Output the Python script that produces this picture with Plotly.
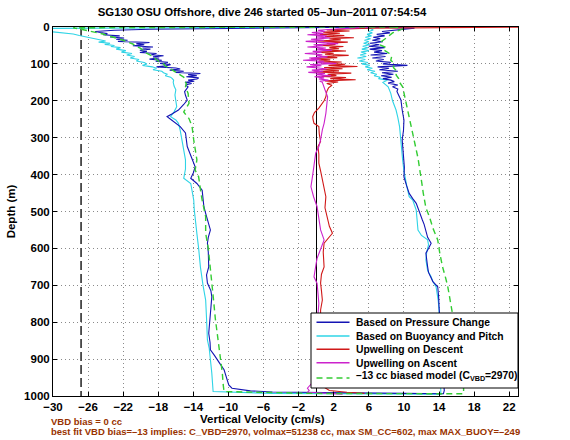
import plotly.graph_objects as go

# ---------------- data (depth in m, velocity in cm/s) ----------------
navy_desc_d = [0, 2, 3, 6, 9, 12, 15, 18, 21, 24, 27, 30, 33, 36, 39, 42, 45, 48, 51, 54, 57, 60, 63, 66, 69, 72, 75, 78,
               81, 84, 87, 90, 93, 96, 99, 102, 105, 108, 111, 114, 117, 120, 123, 126, 129, 132, 135, 138, 141, 144,
               147, 150, 153, 157, 162, 168, 175, 185, 198, 210, 225, 235, 243, 250, 260, 270, 287, 305, 324, 342,
               360, 379, 395, 410, 424, 442, 465, 487, 505, 523, 550, 570, 586, 610, 650, 672, 694, 715, 731, 760,
               785, 810, 830, 855, 875, 890, 902, 915, 929, 950, 970, 979, 986, 989, 991, 992, 993]
navy_desc_v = [7, -5, -13, -19, -23, -25.2, -24.6, -23.8, -24.3, -22.4, -23.5, -21.9, -22.8, -21.5, -22.6, -19.0, -20.5,
               -19.6, -20.9, -18.6, -19.8, -18.9, -20.1, -19.3, -20.1, -18.2, -18.8, -17.4, -18.6, -17.9, -19.0, -17.6,
               -18.3, -16.9, -17.8, -16.6, -17.1, -18.2, -16.0, -15.5, -16.7, -15.1, -16.0, -13.2, -14.6, -13.6, -14.8,
               -13.4, -13.6, -14.6, -13.9, -14.95, -14.2, -14.9, -14.6, -14.8, -15.0, -14.9, -14.7, -15.1, -15.7, -16.4,
               -17.0, -16.6, -16.0, -15.5, -14.9, -14.8, -14.7, -14.4, -14.15, -13.8, -14.0, -14.3, -13.6, -13.0, -12.9,
               -12.8, -12.6, -12.4, -12.06, -12.3, -12.4, -12.3, -12.25, -12.5, -12.4, -12.0, -11.9, -12.0, -12.06,
               -12.2, -12.25, -12.1, -12.06, -11.6, -11.3, -10.9, -10.5, -10.2, -9.97, -9.6, -7.5, -5.0, 0.0, 5.0, 10.0]
navy_asc_d = [994, 985, 960, 930, 900, 870, 840, 810, 785, 758, 730, 704, 690, 680, 665, 650, 630, 613, 600, 586, 570,
              550, 535, 523, 500, 478, 465, 451, 430, 406, 380, 360, 335, 306, 280, 252, 225, 198, 185, 175, 168, 162,
              157, 152, 148, 144, 140, 136, 132, 128, 124, 120, 116, 112, 108, 104, 100, 96, 92, 88, 84, 80, 76, 72,
              68, 64, 60, 56, 52, 48, 44, 40, 36, 32, 28, 24, 20, 16, 12, 8, 5, 3, 1, 0]
navy_asc_v = [14.5, 14.6, 14.5, 14.4, 14.3, 14.3, 14.2, 14.1, 14.1, 14.0, 13.95, 13.85, 13.3, 13.1, 12.8, 12.7, 12.6,
              12.5, 12.8, 13.1, 12.7, 12.5, 12.3, 12.1, 11.7, 11.4, 11.0, 10.6, 10.3, 10.0, 10.05, 10.0, 9.9, 9.8,
              9.95, 10.0, 9.8, 9.66, 9.4, 9.2, 9.3, 8.7, 9.3, 8.2, 8.9, 8.5, 7.6, 8.6, 7.4, 8.8, 7.5, 9.3, 7.2, 8.3,
              7.0, 10.4, 7.6, 8.5, 6.8, 7.7, 6.4, 7.9, 6.2, 8.1, 6.6, 7.5, 6.1, 7.8, 6.0, 7.2, 6.1, 7.6, 6.4, 7.3,
              6.5, 7.8, 6.9, 8.4, 7.5, 9.6, 10.8, 11.2, 8.0, 4.0]

cyan_desc_d = [0, 2, 4, 8, 12, 16, 19, 23, 27, 31, 35, 38, 41, 44, 47, 50, 53, 56, 60, 64, 68, 72, 76, 80, 84, 88, 92,
               96, 100, 104, 108, 112, 116, 120, 124, 128, 132, 136, 140, 144, 150, 160, 170, 184, 200, 216, 230, 243,
               252, 261, 280, 306, 330, 360, 385, 410, 424, 445, 469, 495, 523, 560, 600, 650, 700, 740, 790, 848, 870,
               893, 915, 938, 965, 988, 993, 994]
cyan_desc_v = [1, -18, -33, -32, -30.5, -29.2, -27.7, -27.0, -26.2, -25.4, -24.6, -24.0, -24.8, -23.5, -24.1, -23.0,
               -23.4, -22.3, -22.8, -21.7, -22.2, -21.0, -21.6, -20.7, -21.2, -20.2, -20.5, -19.6, -19.3, -19.8, -18.7,
               -18.2, -18.6, -17.6, -17.4, -17.0, -17.2, -16.6, -16.4, -16.25, -16.3, -16.2, -16.0, -16.1, -16.0,
               -15.9, -16.2, -16.6, -16.0, -15.7, -15.5, -15.3, -15.1, -14.9, -14.9, -15.1, -14.3, -14.1, -13.96,
               -13.9, -13.8, -13.6, -13.4, -13.2, -12.9, -12.6, -12.5, -12.4, -12.2, -12.06, -12.0, -11.9, -11.8,
               -11.75, -5.0, 3.0]
cyan_asc_d = [995, 985, 960, 930, 900, 870, 840, 800, 767, 740, 720, 704, 690, 677, 660, 645, 631, 610, 590, 577, 565,
              550, 530, 510, 496, 469, 460, 440, 415, 390, 360, 335, 315, 290, 270, 245, 225, 200, 180, 162, 150, 144,
              140, 136, 132, 128, 124, 120, 116, 112, 108, 104, 100, 96, 92, 88, 84, 80, 76, 72, 68, 64, 60, 56, 52,
              48, 44, 40, 36, 32, 28, 24, 20, 16, 12, 8, 4, 1, 0]
cyan_asc_v = [14.2, 14.2, 14.2, 14.15, 14.1, 14.1, 14.05, 14.0, 14.0, 13.9, 13.8, 13.66, 13.3, 13.1, 12.7, 12.6, 12.5,
              12.6, 12.8, 12.7, 12.0, 11.6, 11.5, 11.4, 11.4, 11.0, 10.6, 10.4, 10.2, 10.0, 9.85, 9.75, 9.66, 9.6,
              9.5, 9.3, 9.1, 8.7, 8.5, 8.2, 7.6, 8.1, 7.1, 7.3, 6.6, 6.9, 6.2, 6.7, 5.8, 6.4, 5.6, 6.1, 5.2, 5.9, 4.9,
              5.6, 4.7, 5.7, 5.0, 5.7, 5.1, 6.0, 5.2, 5.9, 5.3, 6.1, 5.4, 6.0, 5.5, 6.2, 5.6, 6.3, 5.8, 6.4, 6.0, 6.5,
              6.2, 4.0, 1.0]

green_desc_d = [0, 2, 5, 10, 14, 19, 24, 28, 32, 36, 40, 46, 52, 58, 64, 70, 76, 82, 88, 94, 100, 106, 112, 118, 124,
                130, 136, 145, 154, 162, 180, 207, 220, 230, 240, 248, 260, 270, 306, 330, 360, 388, 406, 440, 469,
                514, 559, 600, 650, 700, 740, 790, 830, 893, 938, 970, 988, 993]
green_desc_v = [9, -27.7, -27.0, -25.8, -25.3, -24.3, -23.6, -23.2, -22.4, -22.0, -21.6, -20.9, -20.6, -20.0, -19.7,
                -19.4, -18.9, -18.6, -18.2, -17.9, -17.4, -17.2, -16.7, -16.3, -16.0, -15.5, -15.1, -15.0, -14.8,
                -14.9, -14.6, -14.5, -14.8, -15.1, -14.8, -14.5, -14.3, -14.15, -13.96, -13.8, -13.6, -13.8, -13.4,
                -13.2, -13.0, -12.6, -12.6, -12.3, -12.06, -11.9, -11.7, -11.5, -11.3, -10.9, -10.7, -10.6, -10.5, 0.0]
green_asc_d = [994, 980, 950, 900, 850, 800, 758, 730, 704, 680, 650, 615, 577, 545, 514, 490, 469, 450, 433, 405, 379,
               355, 333, 310, 288, 265, 243, 220, 198, 180, 162, 150, 140, 130, 120, 110, 100, 90, 80, 71, 62, 55, 48,
               40, 32, 24, 16, 10, 5, 2, 0]
green_asc_v = [16.8, 16.8, 16.6, 16.3, 16.0, 15.7, 15.4, 15.2, 15.0, 14.75, 14.4, 14.1, 13.85, 13.3, 12.9, 12.5, 12.3,
               12.2, 12.1, 11.95, 11.8, 11.6, 11.4, 11.2, 11.0, 10.8, 10.6, 10.4, 10.2, 10.0, 9.85, 9.5, 9.4, 9.1, 9.2,
               8.8, 8.9, 8.5, 8.6, 8.3, 7.7, 7.9, 7.2, 7.4, 7.9, 8.3, 8.7, 9.3, 9.85, 9.4, 9.0]

red_d = [0, 1.5, 3, 5, 8, 11, 14, 17, 20, 23, 26, 29, 32, 35, 38, 41, 44, 47, 50, 53, 56, 59, 62, 65, 68, 71, 74, 77,
         80, 83, 86, 89, 92, 95, 98, 101, 104, 107, 110, 113, 116, 119, 122, 125, 128, 131, 134, 137, 140, 143, 146,
         149, 153, 158, 165, 175, 189, 200, 210, 220, 232, 243, 252, 261, 270, 290, 310, 324, 345, 369, 390, 415,
         440, 460, 490, 523, 540, 559, 575, 586, 610, 650, 670, 694, 715, 740, 767, 800, 850, 900, 950, 975, 985,
         990, 993]
red_v = [26, 14, 6, 3.5, 1.2, 3.8, 0.8, 2.7, 0.4, 3.2, 1.0, 4.3, 1.5, 2.8, 0.2, 3.6, 1.2, 2.2, 0.4, 3.1, 1.5, 2.6, 0.8,
         3.4, 0.0, 2.0, 1.0, 3.7, 0.6, 2.4, -0.6, 1.6, 0.3, 2.9, 0.7, 3.3, 1.4, 4.7, 0.9, 3.0, 0.5, 2.6, -0.3, 4.0,
         1.3, 2.3, 0.6, 3.4, 1.6, 4.5, 1.0, 2.5, 1.2, 1.8, 1.4, 1.2, 1.1, 0.9, 0.6, 0.3, -0.2, -0.4, -0.35, -0.25,
         0.3, 0.35, 0.5, 0.2, 0.3, 0.3, 0.5, 0.7, 0.9, 1.1, 1.0, 1.3, 1.5, 1.85, 1.3, 0.9, 0.8, 0.9, 0.6, 0.5, 0.6,
         0.7, 0.5, 0.5, 0.4, 0.5, 0.6, 0.8, 1.5, 3.5, 5.5]

magenta_d = [995, 990, 985, 979, 960, 930, 900, 870, 840, 810, 780, 749, 720, 695, 677, 660, 640, 627, 604, 577, 550,
             523, 500, 487, 460, 433, 406, 379, 342, 324, 306, 279, 261, 234, 210, 189, 170, 153, 150, 147, 144, 141,
             138, 135, 132, 129, 126, 123, 120, 117, 114, 111, 108, 105, 102, 99, 96, 93, 90, 87, 84, 81, 78, 75, 72,
             69, 66, 63, 60, 57, 54, 51, 48, 45, 42, 39, 36, 33, 30, 27, 24, 21, 18, 15, 12, 9, 6, 3, 1, 0]
magenta_v = [3.0, -1.0, -0.8, -1.0, -0.3, 0.0, 0.1, 0.2, 0.2, 0.1, 0.2, 0.3, 0.2, 0.1, -0.25, -0.1, 0.0, 0.1, 0.5, 0.9,
             0.5, 0.3, 0.2, 0.1, -0.3, -0.6, -0.43, -0.25, -0.06, 0.3, 0.5, 0.7, 0.9, 1.1, 1.2, 1.3, 1.0, 0.7, 0.7,
             0.4, 1.4, 0.3, 0.9, -0.2, 1.7, 0.0, 1.0, -0.9, 0.8, -0.5, 1.2, 0.3, -1.1, 0.6, -0.7, 2.3, 0.1, 0.9, -1.5,
             0.5, -0.8, 1.3, 0.0, 0.7, -1.3, 0.6, -0.4, 1.8, 0.1, 1.1, -1.0, 0.8, -0.3, 2.5, 0.4, -1.2, 0.9, -0.6, 1.6,
             0.0, 1.2, -1.0, 0.8, -0.5, 1.0, 0.2, 1.8, 3.5, 5.5, 6.5]

vbd_limit = -26.8  # dashed reference line (cm/s)

x_ticks = list(range(-30, 23, 4))
y_ticks = list(range(0, 1001, 100))

legend_labels = ["Based on Pressure Change", "Based on Buoyancy and Pitch", "Upwelling on Descent",
                 "Upwelling on Ascent", "\u201313 cc biased model (C<sub>VBD</sub>=2970)"]

title_text = "SG130 OSU Offshore, dive 246 started 05\u2013Jun\u20132011 07:54:54"
note1 = "VBD bias = 0 cc"
note2 = ("best fit VBD bias=\u201313 implies: C_VBD=2970, volmax=51238 cc, max SM_CC=602, "
         "max MAX_BUOY=\u2013249")

# ---------------- styles ----------------
C_NAVY = "#1414B4"
C_CYAN = "#2FD4E6"
C_RED = "#D01818"
C_MAG = "#CC22CC"
C_GREEN = "#33CC33"
FONT = "Liberation Sans, Arial, Helvetica, sans-serif"
BROWN = "#993300"

fig = go.Figure()

fig.add_trace(go.Scatter(x=cyan_desc_v + cyan_asc_v, y=cyan_desc_d + cyan_asc_d, mode="lines",
                         line=dict(color=C_CYAN, width=1.1), showlegend=False))
fig.add_trace(go.Scatter(x=navy_desc_v + navy_asc_v, y=navy_desc_d + navy_asc_d, mode="lines",
                         line=dict(color=C_NAVY, width=1.1), showlegend=False))
fig.add_trace(go.Scatter(x=red_v, y=red_d, mode="lines",
                         line=dict(color=C_RED, width=1.1), showlegend=False))
fig.add_trace(go.Scatter(x=magenta_v, y=magenta_d, mode="lines",
                         line=dict(color=C_MAG, width=1.1), showlegend=False))
fig.add_trace(go.Scatter(x=green_desc_v + green_asc_v, y=green_desc_d + green_asc_d, mode="lines",
                         line=dict(color=C_GREEN, width=1.4, dash="6px,4px"), showlegend=False))

# dashed reference line
fig.add_shape(type="line", xref="x", yref="y", x0=vbd_limit, x1=vbd_limit, y0=0, y1=1000,
              line=dict(color="#444444", width=1.8, dash="9px,4px"), layer="between")

# ---------------- custom legend box (MATLAB-style compact) ----------------
def px2paper_x(px):
    return (px - 53) / 465.0


def px2paper_y(py):
    return (396 - py) / 369.0


fig.add_shape(type="rect", xref="paper", yref="paper",
              x0=px2paper_x(311), x1=px2paper_x(518), y0=px2paper_y(388), y1=px2paper_y(313),
              line=dict(color="black", width=1), fillcolor="white", layer="above")
row_line_y = [322.3, 336, 349.3, 362.7, 378]
row_text_y = [322, 336, 349.3, 363, 376]
row_styles = [dict(color=C_NAVY, width=1.5), dict(color=C_CYAN, width=1.5), dict(color=C_RED, width=1.5),
              dict(color=C_MAG, width=1.5), dict(color=C_GREEN, width=1.5, dash="6px,4px")]
for lab, ly, ty, st in zip(legend_labels, row_line_y, row_text_y, row_styles):
    fig.add_shape(type="line", xref="paper", yref="paper", x0=px2paper_x(316.5), x1=px2paper_x(349.5),
                  y0=px2paper_y(ly), y1=px2paper_y(ly), line=st, layer="above")
    fig.add_annotation(xref="paper", yref="paper", x=px2paper_x(354), y=px2paper_y(ty), text="<b>" + lab + "</b>",
                       showarrow=False, xanchor="left", yanchor="middle",
                       font=dict(family=FONT, size=10.3, color="black"))

# axis title and notes
fig.add_annotation(xref="paper", yref="paper", x=px2paper_x(262), y=px2paper_y(419),
                   text="<b>Vertical Velocity (cm/s)</b>", showarrow=False, xanchor="center", yanchor="middle",
                   font=dict(family=FONT, size=11.5, color="black"))
fig.add_annotation(xref="paper", yref="paper", x=px2paper_x(49), y=px2paper_y(421),
                   text="<b>" + note1 + "</b>", showarrow=False, xanchor="left", yanchor="middle",
                   font=dict(family=FONT, size=9.5, color=BROWN))
fig.add_annotation(xref="paper", yref="paper", x=px2paper_x(49), y=px2paper_y(431.5),
                   text="<b>" + note2 + "</b>", showarrow=False, xanchor="left", yanchor="middle",
                   font=dict(family=FONT, size=9.5, color=BROWN))

axis_common = dict(showline=True, linecolor="black", linewidth=1, mirror="allticks", ticks="inside",
                   ticklen=4, tickcolor="black", showgrid=True, gridcolor="#8a8a8a", gridwidth=1,
                   griddash="1px,3px", automargin=False,
                   tickfont=dict(family=FONT, size=11.5, color="black", weight="bold"))

fig.update_xaxes(range=[-30, 23], tickvals=x_ticks, zeroline=True, zerolinecolor="black", zerolinewidth=1,
                 **axis_common)
fig.update_yaxes(range=[1000, 0], tickvals=y_ticks, zeroline=False,
                 title=dict(text="<b>Depth (m)</b>", font=dict(family=FONT, size=11.5, color="black"), standoff=6),
                 **axis_common)

fig.update_layout(
    width=570, height=440,
    margin=dict(l=53, r=52, t=27, b=44),
    paper_bgcolor="white", plot_bgcolor="white",
    title=dict(text="<b>" + title_text + "</b>", x=px2paper_x(262), xref="paper", xanchor="center",
               y=1 - 12 / 440.0, yref="container", yanchor="middle",
               font=dict(family=FONT, size=11.4, color="black")),
    showlegend=False,
)

fig.write_html("out.html", config={"displayModeBar": False},
               post_script="document.body.style.margin='0px';document.body.style.padding='0px';")
